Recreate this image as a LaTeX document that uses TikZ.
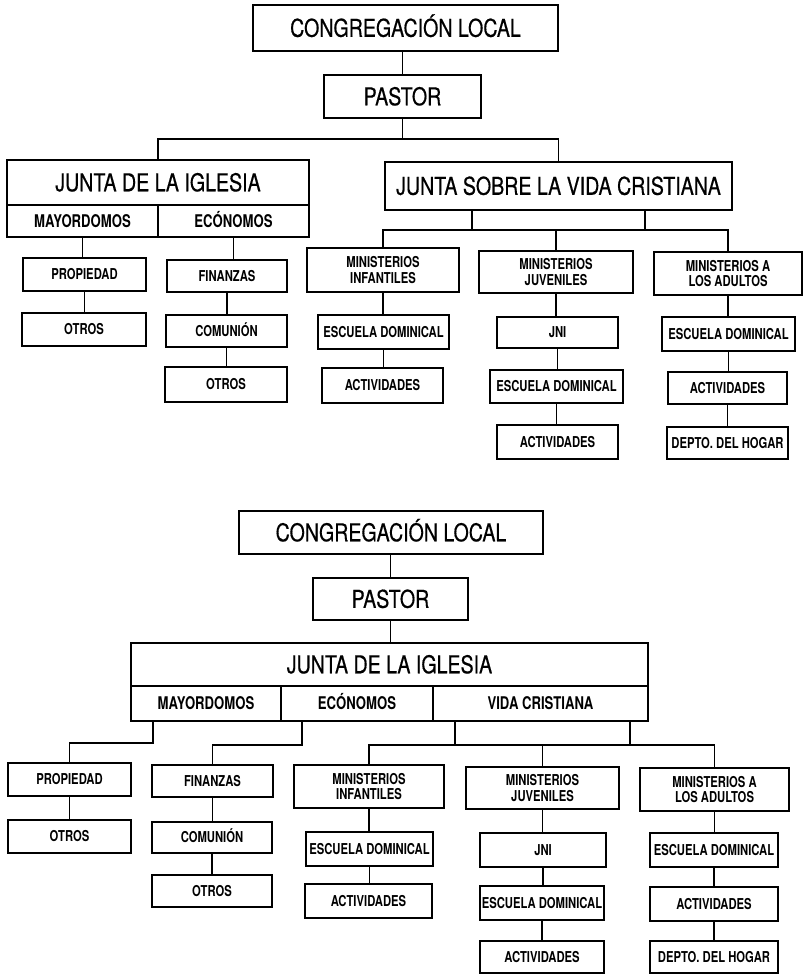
\documentclass[tikz,border=0pt]{standalone}
\usepackage{fontspec}
\setmainfont{TeX Gyre Heros}[FakeStretch=0.75]
\newfontfamily\bigfnt{TeX Gyre Heros}[FakeStretch=0.8,FakeBold=0.5]
\tikzset{
  bx/.style={draw, line width=1.8pt, inner sep=1pt, align=center, text height=11pt, text depth=0.5pt, font=\fontsize{15}{15.5}\bfseries\selectfont},
  two/.style={text height=, text depth=},
  big/.style={font=\bigfnt\fontsize{24.5}{28}\selectfont, text height=18pt, text depth=0.5pt},
  mid/.style={font=\fontsize{17.5}{19}\bfseries\selectfont, text height=12.8pt, text depth=0.5pt},
  ln/.style={line width=1.8pt}
}
\newcommand{\ob}[7][]{%
  \pgfmathsetmacro\obcx{(#3+#5)/2}%
  \pgfmathsetmacro\obcy{(#4+#6)/2}%
  \pgfmathsetmacro\obw{#5-#3}%
  \pgfmathsetmacro\obh{#6-#4}%
  \node[bx,#1,minimum width=\obw pt,minimum height=\obh pt] (#2) at (\obcx,\obcy) {#7};}
\newcommand{\vc}[2]{\draw[ln] (#1.south) -- (#1.south |- #2.north);}
\begin{document}
\begin{tikzpicture}[x=1pt,y=-1pt]
\useasboundingbox (0,0) rectangle (803,975);
% ===== TOP DIAGRAM =====
\ob[big]{cong1}{253}{5}{558}{51}{CONGREGACIÓN LOCAL}
\ob[big]{pastor1}{324}{75}{481}{118}{PASTOR}
\ob[big]{junta1}{7}{160}{309}{205}{JUNTA DE LA IGLESIA}
\ob[mid]{may1}{7}{205}{158}{237}{MAYORDOMOS}
\ob[mid]{eco1}{158}{205}{309}{237}{ECÓNOMOS}
\ob[big]{jsvc1}{385}{162}{732}{210}{JUNTA SOBRE LA VIDA CRISTIANA}
\ob{prop1}{23}{258}{146}{291}{PROPIEDAD}
\ob{otr1}{22}{313}{146}{346}{OTROS}
\ob{fin1}{167}{260}{287}{292}{FINANZAS}
\ob{com1}{166}{315}{287}{347}{COMUNIÓN}
\ob{otrb1}{165}{367}{287}{402}{OTROS}
\ob[two]{minf1}{307}{248}{459}{292}{MINISTERIOS\\INFANTILES}
\ob{escA1}{318}{315}{449}{349}{ESCUELA DOMINICAL}
\ob{actA1}{322}{368}{443}{403}{ACTIVIDADES}
\ob[two]{mjuv1}{479}{251}{633}{293}{MINISTERIOS\\JUVENILES}
\ob{jni1}{497}{317}{618}{348}{JNI}
\ob{escB1}{490}{370}{623}{403}{ESCUELA DOMINICAL}
\ob{actB1}{497}{425}{618}{459}{ACTIVIDADES}
\ob[two]{madu1}{654}{252}{802}{295}{MINISTERIOS A\\LOS ADULTOS}
\ob{escC1}{662}{317}{795}{351}{ESCUELA DOMINICAL}
\ob{actC1}{668}{372}{787}{404}{ACTIVIDADES}
\ob{dep1}{667}{427}{788}{459}{DEPTO. DEL HOGAR}
% connectors top
\draw[ln] (cong1.south -| pastor1.north) -- (pastor1.north);
\path (pastor1.south) ++(0,20) coordinate (h1);
\draw[ln] (pastor1.south) -- (h1);
\draw[ln] (junta1.north) |- (h1) -| (jsvc1.north);
\coordinate (v1) at (472,230);
\coordinate (v2) at (645,230);
\draw[ln] (jsvc1.south -| v1) -- (v1);
\draw[ln] (jsvc1.south -| v2) -- (v2);
\draw[ln] (minf1.north) |- (v1) -- (v1 -| madu1.north) -- (madu1.north);
\draw[ln] (mjuv1.north) -- (mjuv1.north |- v1);
\vc{may1}{prop1}
\vc{prop1}{otr1}
\vc{eco1}{fin1}
\vc{fin1}{com1}
\vc{com1}{otrb1}
\vc{minf1}{escA1}
\vc{escA1}{actA1}
\vc{mjuv1}{jni1}
\vc{jni1}{escB1}
\vc{escB1}{actB1}
\vc{madu1}{escC1}
\vc{escC1}{actC1}
\vc{actC1}{dep1}
% ===== BOTTOM DIAGRAM =====
\ob[big]{cong2}{239}{511}{543}{554}{CONGREGACIÓN LOCAL}
\ob[big]{pastor2}{313}{578}{468}{620}{PASTOR}
\ob[big]{junta2}{131}{643}{648}{686}{JUNTA DE LA IGLESIA}
\ob[mid]{may2}{131}{686}{281}{721}{MAYORDOMOS}
\ob[mid]{eco2}{281}{686}{433}{721}{ECÓNOMOS}
\ob[mid]{vida2}{433}{686}{648}{721}{VIDA CRISTIANA}
\ob{prop2}{8}{763}{131}{796}{PROPIEDAD}
\ob{otr2}{8}{820}{131}{853}{OTROS}
\ob{fin2}{152}{765}{273}{797}{FINANZAS}
\ob{com2}{152}{822}{272}{853}{COMUNIÓN}
\ob{otrb2}{152}{875}{272}{907}{OTROS}
\ob[two]{minf2}{294}{765}{444}{808}{MINISTERIOS\\INFANTILES}
\ob{escA2}{306}{832}{433}{866}{ESCUELA DOMINICAL}
\ob{actA2}{305}{884}{432}{918}{ACTIVIDADES}
\ob[two]{mjuv2}{466}{767}{619}{809}{MINISTERIOS\\JUVENILES}
\ob{jni2}{480}{833}{606}{867}{JNI}
\ob{escB2}{480}{886}{604}{920}{ESCUELA DOMINICAL}
\ob{actB2}{480}{941}{604}{973}{ACTIVIDADES}
\ob[two]{madu2}{640}{768}{789}{811}{MINISTERIOS A\\LOS ADULTOS}
\ob{escC2}{650}{833}{778}{867}{ESCUELA DOMINICAL}
\ob{actC2}{650}{887}{778}{921}{ACTIVIDADES}
\ob{dep2}{650}{941}{778}{973}{DEPTO. DEL HOGAR}
% connectors bottom
\draw[ln] (cong2.south -| pastor2.north) -- (pastor2.north);
\draw[ln] (pastor2.south) -- (pastor2.south |- junta2.north);
\coordinate (m2) at (153,743);
\draw[ln] (may2.south -| m2) -- (m2) -| (prop2.north);
\coordinate (e2) at (302,745);
\draw[ln] (eco2.south -| e2) -- (e2) -| (fin2.north);
\coordinate (w1) at (455,745);
\coordinate (w2) at (630,745);
\draw[ln] (vida2.south -| w1) -- (w1);
\draw[ln] (vida2.south -| w2) -- (w2);
\draw[ln] (minf2.north) |- (w1) -- (w1 -| madu2.north) -- (madu2.north);
\draw[ln] (mjuv2.north) -- (mjuv2.north |- w1);
\vc{prop2}{otr2}
\vc{fin2}{com2}
\vc{com2}{otrb2}
\vc{minf2}{escA2}
\vc{escA2}{actA2}
\vc{mjuv2}{jni2}
\vc{jni2}{escB2}
\vc{escB2}{actB2}
\vc{madu2}{escC2}
\vc{escC2}{actC2}
\vc{actC2}{dep2}
\end{tikzpicture}
\end{document}
